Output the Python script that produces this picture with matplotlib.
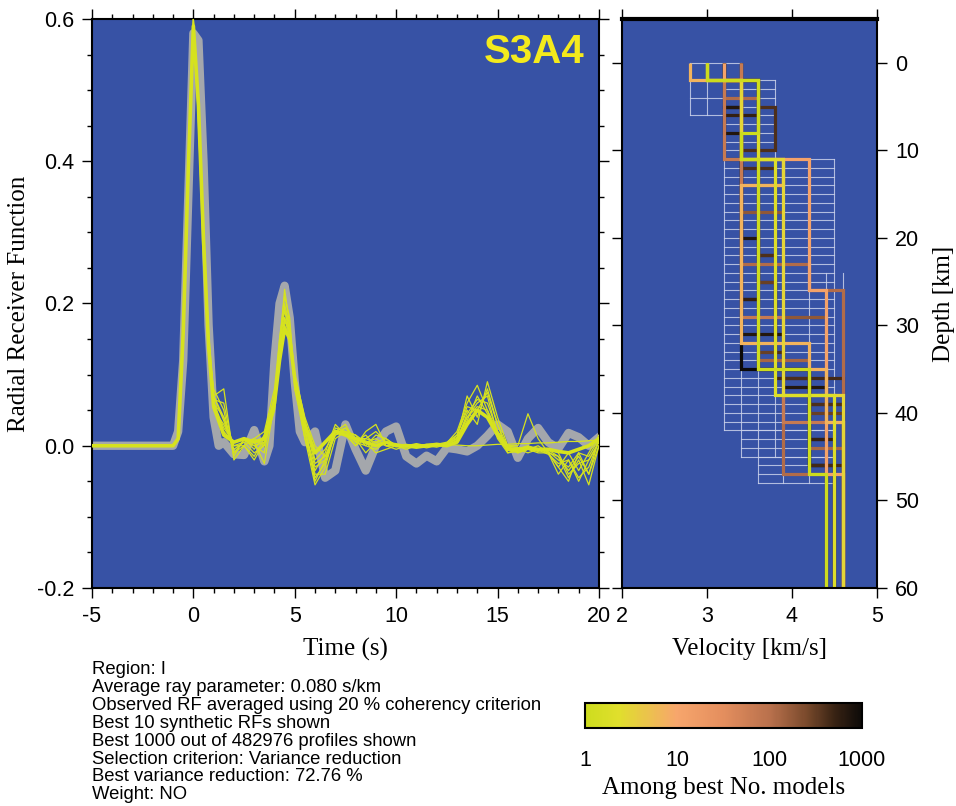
import numpy as np
import matplotlib.pyplot as plt
from matplotlib.colors import LinearSegmentedColormap, LogNorm
from matplotlib.ticker import MultipleLocator
import matplotlib as mpl

plt.rcParams['font.family'] = ['Liberation Sans', 'DejaVu Sans']
plt.rcParams['axes.unicode_minus'] = False
SERIF = ['Liberation Serif', 'DejaVu Serif']

# --- observed receiver function (grey) ---
t_obs = [-5.0, -1.0, -0.75, -0.5, -0.25, 0.0, 0.25, 0.5, 0.75, 1.0, 1.25, 1.5, 2.0, 2.5,
         3.0, 3.5, 3.75, 4.0, 4.25, 4.5, 4.75, 5.0, 5.25, 5.5, 6.0, 6.5, 7.0, 7.5,
         8.0, 8.5, 9.0, 9.5, 10.0, 10.5, 11.0, 11.5, 12.0, 12.5, 13.0, 13.5, 14.0,
         14.5, 15.0, 15.5, 16.0, 16.5, 17.0, 17.5, 18.0, 18.5, 19.0, 19.5, 20.0]
rf_obs = [0.0, 0.0, 0.02, 0.12, 0.35, 0.58, 0.57, 0.40, 0.17, 0.04, 0.0, 0.005, -0.012, -0.013,
          0.022, -0.022, 0.0, 0.12, 0.20, 0.225, 0.18, 0.09, 0.02, 0.005, 0.02, -0.045, -0.035, 0.03,
          -0.005, -0.035, 0.0, 0.02, 0.027, -0.015, -0.025, -0.014, -0.022, -0.003, -0.005, -0.008, 0.0,
          0.014, 0.03, 0.02, -0.017, 0.01, 0.025, 0.005, -0.004, 0.018, 0.012, 0.0, 0.012]

# --- best 10 synthetic RFs (first = best) ---
t_syn = [-5.0, -1.0, -0.75, -0.5, -0.25, 0.0, 0.25, 0.5, 0.75, 1.0,
         1.5, 2.0, 2.5, 3.0, 3.5, 4.0, 4.25, 4.5, 4.75, 5.0,
         5.5, 6.0, 6.5, 7.0, 7.5, 8.0, 8.5, 9.0, 9.5, 10.0,
         10.5, 11.0, 11.5, 12.0, 12.5, 13.0, 13.5, 14.0, 14.5, 15.0,
         15.5, 16.0, 16.5, 17.0, 17.5, 18.0, 18.5, 19.0, 19.5, 20.0]
syn_01 = [0.0, 0.0, 0.01, 0.16, 0.39, 0.59, 0.48, 0.29, 0.14, 0.055,
          0.015, 0.005, 0.01, 0.005, 0.01, 0.06, 0.12, 0.165, 0.15, 0.095,
          0.03, -0.01, 0.005, 0.02, 0.015, 0.01, 0.005, 0.0, 0.005, 0.0,
          0.0, -0.002, 0.0, 0.002, 0.0, 0.005, 0.03, 0.05, 0.04, 0.015,
          -0.005, -0.005, -0.003, -0.005, -0.005, -0.008, -0.01, -0.005, 0.0, 0.01]
syn_02 = [0.0, 0.0, 0.012, 0.17, 0.40, 0.60, 0.47, 0.28, 0.15, 0.07,
          0.08, -0.02, 0.0, -0.02, 0.005, 0.05, 0.14, 0.22, 0.17, 0.09,
          0.02, -0.05, -0.02, 0.025, 0.02, 0.0, 0.02, 0.03, 0.0, -0.005,
          0.0, 0.003, 0.0, 0.0, 0.004, 0.02, 0.06, 0.085, 0.05, 0.01,
          -0.01, -0.008, -0.005, -0.01, -0.01, -0.03, -0.05, -0.01, -0.04, 0.0]
syn_03 = [0.0, 0.0, 0.008, 0.15, 0.38, 0.58, 0.49, 0.30, 0.16, 0.07,
          0.04, -0.01, 0.008, 0.0, -0.01, 0.07, 0.13, 0.18, 0.16, 0.08,
          0.01, -0.055, -0.03, 0.02, 0.025, 0.01, -0.01, 0.005, 0.01, 0.0,
          -0.005, 0.0, 0.002, 0.0, 0.003, 0.01, 0.07, 0.04, 0.08, 0.03,
          -0.01, -0.005, 0.0, -0.005, -0.01, -0.04, -0.02, -0.05, -0.02, 0.005]
syn_04 = [0.0, 0.0, 0.01, 0.16, 0.39, 0.595, 0.48, 0.28, 0.13, 0.05,
          0.03, 0.0, 0.005, 0.01, 0.02, 0.08, 0.15, 0.20, 0.16, 0.08,
          0.02, -0.04, -0.04, 0.01, 0.02, 0.015, 0.0, -0.005, 0.005, 0.0,
          0.002, 0.0, -0.003, 0.0, 0.0, 0.008, 0.045, 0.065, 0.06, 0.02,
          -0.005, -0.005, -0.01, -0.005, -0.008, -0.02, -0.03, -0.01, -0.015, 0.01]
syn_05 = [0.0, 0.0, 0.01, 0.16, 0.38, 0.58, 0.47, 0.29, 0.15, 0.06,
          0.02, 0.005, 0.01, -0.005, 0.015, 0.07, 0.14, 0.19, 0.16, 0.10,
          0.04, 0.0, -0.015, 0.015, 0.02, 0.015, 0.005, -0.01, -0.005, 0.0,
          0.0, 0.0, 0.002, 0.003, 0.002, 0.001, 0.0, 0.0, 0.001, 0.002,
          0.002, 0.003, 0.003, 0.004, 0.004, 0.005, 0.006, 0.006, 0.007, 0.008]
syn_06 = [0.0, 0.0, 0.01, 0.17, 0.40, 0.60, 0.46, 0.27, 0.14, 0.08,
          0.05, -0.015, 0.01, 0.005, -0.025, 0.06, 0.15, 0.21, 0.18, 0.09,
          0.01, -0.035, -0.01, 0.03, 0.015, 0.0, 0.01, 0.02, 0.005, 0.0,
          -0.002, 0.0, 0.0, 0.002, 0.005, 0.015, 0.05, 0.03, 0.09, 0.04,
          0.0, -0.01, -0.005, 0.0, -0.01, -0.015, -0.045, -0.02, -0.055, 0.0]
syn_07 = [0.0, 0.0, 0.009, 0.15, 0.38, 0.59, 0.49, 0.30, 0.14, 0.06,
          0.04, 0.0, 0.0, 0.01, 0.0, 0.05, 0.12, 0.17, 0.15, 0.09,
          0.03, -0.025, -0.015, 0.02, 0.03, 0.005, 0.015, 0.0, 0.005, 0.003,
          0.0, 0.0, 0.001, 0.0, 0.004, 0.012, 0.035, 0.07, 0.045, 0.02,
          0.0, 0.0, 0.045, 0.01, -0.01, -0.03, -0.01, -0.035, -0.01, 0.015]
syn_08 = [0.0, 0.0, 0.01, 0.16, 0.39, 0.60, 0.48, 0.28, 0.15, 0.065,
          0.06, -0.01, 0.0, -0.015, 0.01, 0.065, 0.13, 0.18, 0.155, 0.085,
          0.025, -0.045, -0.025, 0.02, 0.02, 0.005, 0.0, 0.015, 0.01, 0.0,
          0.0, 0.002, 0.0, -0.002, 0.002, 0.01, 0.04, 0.06, 0.07, 0.015,
          -0.005, -0.01, -0.005, -0.008, -0.005, -0.01, -0.04, -0.025, -0.02, 0.005]
syn_09 = [0.0, 0.0, 0.011, 0.17, 0.40, 0.59, 0.47, 0.28, 0.15, 0.07,
          0.035, -0.005, 0.005, -0.01, 0.0, 0.06, 0.14, 0.195, 0.17, 0.09,
          0.02, -0.03, -0.02, 0.015, 0.025, 0.01, 0.005, 0.01, 0.0, 0.0,
          0.001, 0.0, 0.0, 0.001, 0.003, 0.015, 0.055, 0.05, 0.075, 0.03,
          -0.002, -0.006, -0.004, -0.006, -0.012, -0.025, -0.02, -0.045, -0.03, 0.008]
syn_10 = [0.0, 0.0, 0.01, 0.16, 0.39, 0.59, 0.48, 0.29, 0.14, 0.06,
          0.025, 0.005, 0.008, 0.0, 0.005, 0.065, 0.13, 0.175, 0.16, 0.10,
          0.035, -0.02, -0.005, 0.02, 0.02, 0.01, 0.01, 0.005, 0.0, 0.0,
          0.0, 0.0, 0.0, 0.0, 0.002, 0.01, 0.04, 0.055, 0.05, 0.02,
          0.0, -0.003, -0.002, -0.004, -0.006, -0.015, -0.035, -0.015, -0.04, 0.01]
syn_all = [syn_01, syn_02, syn_03, syn_04, syn_05, syn_06, syn_07, syn_08, syn_09, syn_10]

# --- velocity profiles: rank, interface depths (km), layer velocities (km/s) ---
prof_rank = [1, 2, 3, 7, 12, 70, 110, 130, 180, 300, 400, 450, 550, 700, 1000]
prof_depth = [
    [0, 2, 8, 11, 35, 47, 60],
    [0, 2, 11, 38, 60],
    [0, 2, 11, 38, 60],
    [0, 2, 11, 14, 32, 35, 41, 60],
    [0, 2, 11, 26, 47, 60],
    [0, 2, 11, 29, 41, 60],
    [0, 2, 4, 11, 14, 23, 26, 38, 47, 60],
    [0, 2, 11, 34, 44, 60],
    [0, 2, 17, 29, 47, 60],
    [0, 2, 25, 33, 35, 40, 60],
    [0, 2, 5, 10, 12, 22, 25, 33, 36, 39, 60],
    [0, 2, 22, 36, 39, 46, 60],
    [0, 2, 6, 11, 27, 35, 43, 60],
    [0, 2, 5, 8, 20, 27, 31, 37, 43, 46, 60],
    [0, 5, 35, 46, 60],
]
prof_vel = [
    [3.0, 3.6, 3.4, 3.6, 4.2, 4.4],
    [3.0, 3.6, 3.8, 4.5],
    [3.0, 3.4, 3.9, 4.6],
    [2.8, 3.4, 3.9, 3.4, 4.2, 4.4, 4.6],
    [3.2, 3.4, 4.2, 4.4, 4.6],
    [3.4, 3.2, 3.4, 3.9, 4.6],
    [3.4, 3.2, 3.6, 3.9, 3.4, 4.2, 4.6, 3.9, 4.4],
    [3.0, 3.4, 3.6, 4.2, 4.6],
    [3.2, 3.4, 3.9, 4.4, 4.5],
    [3.2, 3.6, 3.8, 3.6, 4.2, 4.6],
    [3.4, 3.6, 3.8, 3.4, 3.8, 3.6, 3.8, 3.9, 4.2, 4.6],
    [3.2, 3.6, 3.8, 4.6, 4.2, 4.6],
    [3.4, 3.6, 3.2, 3.4, 3.6, 4.2, 4.5],
    [3.2, 3.4, 3.2, 3.4, 3.6, 3.4, 3.9, 4.4, 4.2, 4.5],
    [3.2, 3.4, 4.2, 4.4],
]

# --- parameter-space grid blocks ---
grid_vlines = [[2.8, 3.0, 3.2, 3.4], [3.2, 3.4, 3.6, 3.8], [3.2, 3.4, 3.6, 3.8, 4.2, 4.5],
               [3.4, 3.6, 3.8, 4.2, 4.5], [3.6, 3.9, 4.2, 4.5], [4.4, 4.6]]
grid_top = [0, 2, 11, 42, 45, 24]
grid_bot = [6, 11, 42, 45, 48, 36]
grid_step = [2, 1, 1, 1, 1, 0]

info_lines = ['Region: I',
              'Average ray parameter: 0.080 s/km',
              'Observed RF averaged using 20 % coherency criterion',
              'Best 10 synthetic RFs shown',
              'Best 1000 out of 482976 profiles shown',
              'Selection criterion: Variance reduction',
              'Best variance reduction: 72.76 %',
              'Weight: NO']

BLUE = '#3752a5'
YEL = '#d6e21e'
cmap = LinearSegmentedColormap.from_list('rank', [
    (0.0, '#cddc1e'), (0.12, '#e0df2c'), (0.33, '#f7a66c'), (0.5, '#e48e5e'),
    (0.67, '#b8704c'), (0.8, '#7a4a2c'), (0.9, '#3a2414'), (1.0, '#0c0a08')])
norm = LogNorm(1, 1000)

fig = plt.figure(figsize=(9.56, 8.06), dpi=100)

# ---------- left panel: receiver functions ----------
ax1 = fig.add_axes([0.0962, 0.2705, 0.5303, 0.7059])
ax1.set_facecolor(BLUE)
ax1.plot(t_obs, rf_obs, color='#a4a7ac', lw=6, zorder=2)
for s in syn_all[1:]:
    ax1.plot(t_syn, s, color=YEL, lw=0.9, zorder=3)
ax1.plot(t_syn, syn_all[0], color=YEL, lw=2.6, zorder=4)
ax1.set_xlim(-5, 20)
ax1.set_ylim(-0.2, 0.6)
ax1.xaxis.set_major_locator(MultipleLocator(5))
ax1.xaxis.set_minor_locator(MultipleLocator(1))
ax1.yaxis.set_major_locator(MultipleLocator(0.2))
ax1.yaxis.set_minor_locator(MultipleLocator(0.05))
ax1.set_yticks([-0.2, 0.0, 0.2, 0.4, 0.6])
ax1.set_yticklabels(['-0.2', '0.0', '0.2', '0.4', '0.6'])
ax1.tick_params(which='both', direction='out', top=True, right=True, width=1.0,
                labelsize=15.5, pad=6)
ax1.tick_params(which='major', length=7)
ax1.tick_params(which='minor', length=3.5)
for sp in ax1.spines.values():
    sp.set_linewidth(1.5)
ax1.set_xlabel('Time (s)', family=SERIF, fontsize=18, labelpad=8)
ax1.set_ylabel('Radial Receiver Function', family=SERIF, fontsize=18, labelpad=5)
ax1.text(0.972, 0.942, 'S3A4', transform=ax1.transAxes, ha='right', va='center',
         fontsize=29, fontweight='bold', color='#f4ea1c')

# ---------- right panel: velocity profiles ----------
ax2 = fig.add_axes([0.6506, 0.2705, 0.2667, 0.7059])
ax2.set_facecolor(BLUE)
for vl, d0, d1, dd in zip(grid_vlines, grid_top, grid_bot, grid_step):
    for v in vl:
        ax2.plot([v, v], [d0, d1], color='#c9d1ea', lw=0.8, alpha=0.85, zorder=1)
    if dd:
        for d in np.arange(d0, d1 + 0.01, dd):
            ax2.plot([min(vl), max(vl)], [d, d], color='#c9d1ea', lw=0.8, alpha=0.85, zorder=1)

for rank, dep, vel in sorted(zip(prof_rank, prof_depth, prof_vel), key=lambda p: -p[0]):
    xs = np.repeat(vel, 2)
    ys = np.column_stack([dep[:-1], dep[1:]]).ravel()
    ax2.plot(xs, ys, color=cmap(norm(rank)), lw=2.3, zorder=2,
             solid_joinstyle='miter', solid_capstyle='butt')

ax2.set_xlim(2, 5)
ax2.set_ylim(60, -5)
ax2.xaxis.set_major_locator(MultipleLocator(1))
ax2.yaxis.set_major_locator(MultipleLocator(10))
ax2.yaxis.tick_right()
ax2.yaxis.set_label_position('right')
ax2.tick_params(which='both', direction='out', top=True, left=True, right=True,
                width=1.0, length=7, labelsize=15.5, pad=6)
for sp in ax2.spines.values():
    sp.set_linewidth(1.5)
ax2.spines['top'].set_linewidth(3)
ax2.set_xlabel('Velocity [km/s]', family=SERIF, fontsize=18, labelpad=8)
ax2.set_ylabel('Depth [km]', family=SERIF, fontsize=18, labelpad=10)

# ---------- colour bar ----------
cax = fig.add_axes([0.6119, 0.0968, 0.2897, 0.031])
cb = mpl.colorbar.ColorbarBase(cax, cmap=cmap, norm=norm, orientation='horizontal')
cb.set_ticks([1, 10, 100, 1000])
cb.set_ticklabels(['1', '10', '100', '1000'])
cb.minorticks_off()
cb.outline.set_linewidth(1.5)
cax.tick_params(length=0, labelsize=15.5, pad=16)
cb.set_label('Among best No. models', family=SERIF, fontsize=18, labelpad=4)

# ---------- info text ----------
for i, line in enumerate(info_lines):
    fig.text(92 / 956, 1 - (669.5 + i * 17.9) / 806, line, fontsize=13.3, va='center', ha='left')

fig.savefig('out.png', dpi=100)
